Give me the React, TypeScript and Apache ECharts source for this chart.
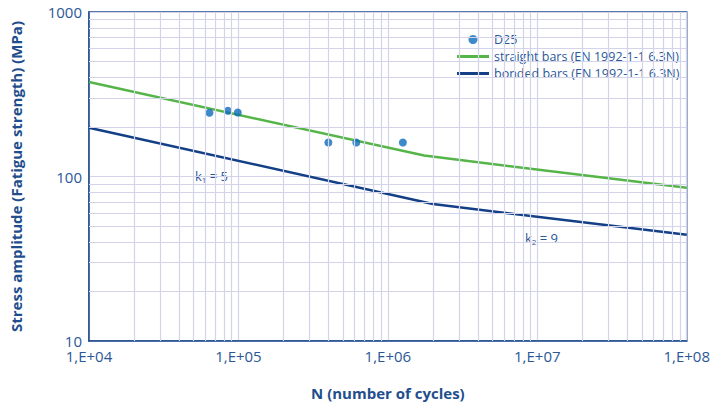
import React, { useEffect, useRef } from "react";
import * as echarts from "echarts";

const xTickLabels = ["1,E+04", "1,E+05", "1,E+06", "1,E+07", "1,E+08"];
const yTickLabels = ["10", "100", "1000"];

const d25Points: [number, number][] = [
  [6.4e4, 244],
  [8.5e4, 251],
  [9.9e4, 245],
  [4.0e5, 161],
  [6.15e5, 161],
  [1.26e6, 161],
];
const straightBars: [number, number][] = [
  [1e4, 375],
  [1.75e6, 134],
  [1e8, 85.3],
];
const bondedBars: [number, number][] = [
  [1e4, 198],
  [2e6, 68],
  [1e8, 44.2],
];

const minorX: number[] = [];
for (let e = 4; e < 8; e++) for (let m = 2; m <= 9; m++) minorX.push(m * Math.pow(10, e));
const minorY: number[] = [];
for (let e = 1; e < 3; e++) for (let m = 2; m <= 9; m++) minorY.push(m * Math.pow(10, e));

const TEXT = "#2b5797";
const AXIS = "#1f4e8c";
const GRID = "#d3d3ea";
const GREEN = "#55b548";
const BLUE = "#123f86";
const FONT = "'Open Sans', 'Noto Sans', sans-serif";
const LINE_ICON = "path://M0,0 H32 V3 H0 Z";

export default function App() {
  const ref = useRef<HTMLDivElement>(null);
  useEffect(() => {
    if (!ref.current) return;
    const chart = echarts.init(ref.current, undefined, { renderer: "svg" });
    const decade = (v: number) => Math.round(Math.log10(v));
    chart.setOption({
      animation: false,
      textStyle: { fontFamily: FONT },
      grid: {
        left: 80,
        right: 25,
        top: 12,
        bottom: 58,
        show: true,
        borderColor: AXIS,
        borderWidth: 1.5,
        containLabel: false,
      },
      legend: {
        orient: "vertical",
        left: 452,
        top: 28,
        itemWidth: 32,
        itemHeight: 9,
        itemGap: 4,
        textStyle: { color: TEXT, fontSize: 12.5, fontFamily: FONT },
        data: [
          { name: "D25", icon: "circle" },
          { name: "straight bars (EN 1992-1-1 6.3N)", icon: LINE_ICON },
          { name: "bonded bars (EN 1992-1-1 6.3N)", icon: LINE_ICON },
        ],
      },
      xAxis: {
        type: "log",
        logBase: 10,
        min: 1e4,
        max: 1e8,
        name: "N (number of cycles)",
        nameLocation: "middle",
        nameGap: 44,
        nameTextStyle: { color: AXIS, fontSize: 15, fontWeight: "bold", fontFamily: FONT },
        axisLine: { show: true, lineStyle: { color: AXIS, width: 1.5 } },
        axisTick: { show: false },
        axisLabel: {
          color: TEXT,
          fontSize: 15,
          margin: 7,
          formatter: (v: number) => xTickLabels[decade(v) - 4] ?? "",
        },
        splitLine: { show: true, lineStyle: { color: GRID, width: 1.2 } },
      },
      yAxis: {
        type: "log",
        logBase: 10,
        min: 10,
        max: 1000,
        name: "Stress amplitude (Fatigue strength) (MPa)",
        nameLocation: "middle",
        nameGap: 66,
        nameTextStyle: { color: AXIS, fontSize: 15, fontWeight: "bold", fontFamily: FONT },
        axisLine: { show: true, lineStyle: { color: AXIS, width: 1.5 } },
        axisTick: { show: false },
        axisLabel: {
          color: TEXT,
          fontSize: 15,
          margin: 7,
          formatter: (v: number) => yTickLabels[decade(v) - 1] ?? "",
        },
        splitLine: { show: true, lineStyle: { color: GRID, width: 1.2 } },
      },
      series: [
        {
          name: "gridlines",
          type: "line",
          data: [],
          silent: true,
          markLine: {
            silent: true,
            symbol: "none",
            label: { show: false },
            lineStyle: { color: GRID, width: 1.2, type: "solid" },
            data: [
              ...minorX.map((x) => ({ xAxis: x })),
              ...minorY.map((y) => ({ yAxis: y })),
            ],
          },
          z: 1,
        },
        {
          name: "straight bars (EN 1992-1-1 6.3N)",
          type: "line",
          data: straightBars,
          showSymbol: false,
          symbol: "none",
          lineStyle: { color: GREEN, width: 2.5 },
          itemStyle: { color: GREEN },
          z: 3,
        },
        {
          name: "bonded bars (EN 1992-1-1 6.3N)",
          type: "line",
          data: bondedBars,
          showSymbol: false,
          symbol: "none",
          lineStyle: { color: BLUE, width: 2.5 },
          itemStyle: { color: BLUE },
          z: 3,
        },
        {
          name: "D25",
          type: "scatter",
          data: d25Points,
          symbol: "circle",
          symbolSize: 8,
          itemStyle: { color: "#0d6bbd" },
          z: 4,
        },
      ],
      graphic: [
        {
          type: "text",
          left: 195,
          top: 169,
          style: {
            text: "{a|k}{b|1}{a| = 5}",
            rich: {
              a: { fontSize: 13, fill: TEXT, fontFamily: FONT },
              b: { fontSize: 8, fill: TEXT, fontFamily: FONT, padding: [7, 0, 0, 0] },
            },
          },
        },
        {
          type: "text",
          left: 525,
          top: 231,
          style: {
            text: "{a|k}{b|2}{a| = 9}",
            rich: {
              a: { fontSize: 13, fill: TEXT, fontFamily: FONT },
              b: { fontSize: 8, fill: TEXT, fontFamily: FONT, padding: [7, 0, 0, 0] },
            },
          },
        },
      ],
    });
    return () => chart.dispose();
  }, []);
  return (
    <div
      ref={ref}
      style={{ position: "absolute", left: 0, top: 0, width: 713, height: 405 }}
    />
  );
}
